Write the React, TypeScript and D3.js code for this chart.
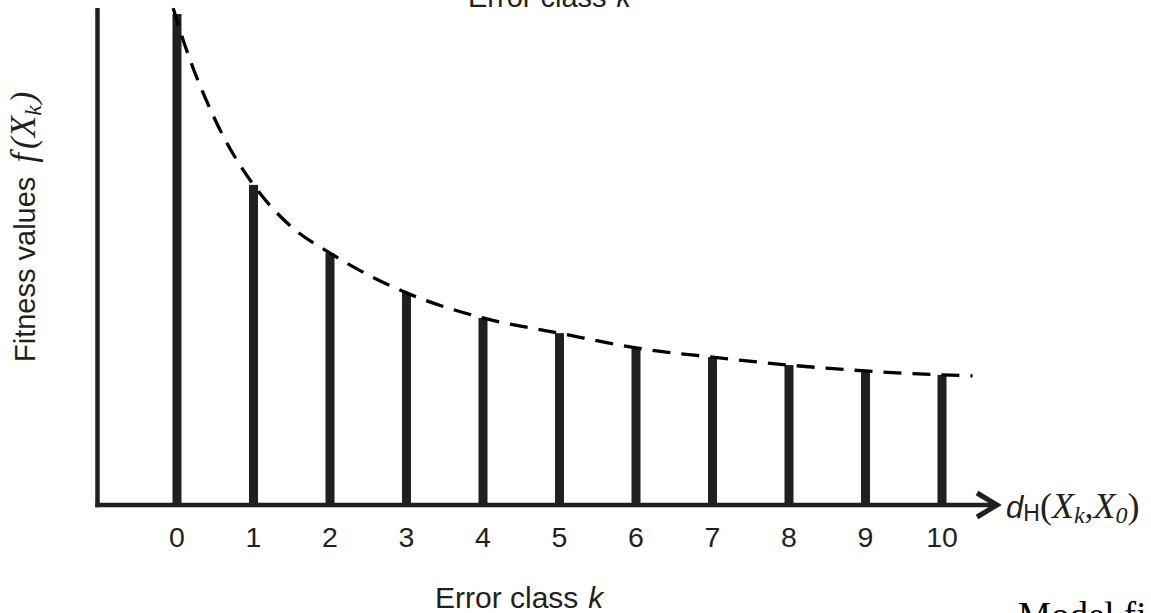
import React from "react";
import * as d3 from "d3";

// Error classes k on the horizontal axis
const errorClasses = [0, 1, 2, 3, 4, 5, 6, 7, 8, 9, 10];
// Relative fitness value f(X_k) for each error class
const fitnessValues = [1.0, 0.652, 0.513, 0.432, 0.381, 0.35, 0.32, 0.301, 0.285, 0.273, 0.265];
// Dashed trend curve through the bar tops
const trendK = [-0.05, 0, 0.5, 1, 1.5, 2, 3, 4, 5, 6, 7, 8, 9, 10, 10.4];
const trendV = [1.012, 0.986, 0.784, 0.652, 0.566, 0.513, 0.432, 0.381, 0.35, 0.32, 0.301, 0.285, 0.273, 0.265, 0.263];
const tickLabels = ["0", "1", "2", "3", "4", "5", "6", "7", "8", "9", "10"];

const W = 1151;
const H = 613;
const INK = "#231f20";
const SANS = "'Liberation Sans', Arial, sans-serif";
const SERIF = "'Liberation Serif', 'Times New Roman', serif";

export default function App() {
  const x = d3.scaleLinear().domain([0, 10]).range([177, 942]);
  const y = d3.scaleLinear().domain([0, 1]).range([505, 14]);

  const trendPts = trendK.map((k, i) => ({ k, v: trendV[i] }));
  const trend = d3
    .line<{ k: number; v: number }>()
    .x((d) => x(d.k))
    .y((d) => y(d.v))
    .curve(d3.curveMonotoneX)(trendPts);

  const axisY = y(0);
  const barW = 9;

  return (
    <svg
      width={W}
      height={H}
      viewBox={`0 0 ${W} ${H}`}
      style={{ position: "fixed", left: 0, top: 0, background: "#fff" }}
    >
      <rect width={W} height={H} fill="#fff" />

      {/* Top caption, partly above the frame */}
      <text x={468} y={7} fontFamily={SANS} fontSize={29} fill={INK}>
        Error class
        <tspan dx={10} fontStyle="italic">k</tspan>
      </text>

      {/* Bars */}
      {errorClasses.map((k, i) => (
        <rect
          key={k}
          x={x(k) - barW / 2}
          y={y(fitnessValues[i])}
          width={barW}
          height={axisY - y(fitnessValues[i])}
          fill={INK}
        />
      ))}

      {/* Dashed trend */}
      <path
        d={trend || ""}
        fill="none"
        stroke="#000"
        strokeWidth={3.3}
        strokeDasharray="18 11"
      />

      {/* Axes */}
      <line x1={97.5} y1={8} x2={97.5} y2={axisY + 2.2} stroke={INK} strokeWidth={4.5} />
      <line x1={95.3} y1={axisY} x2={996} y2={axisY} stroke={INK} strokeWidth={4.5} />
      <polyline
        points={`977,${axisY - 12} 997,${axisY} 977,${axisY + 12}`}
        fill="none"
        stroke={INK}
        strokeWidth={5}
        strokeLinecap="butt"
        strokeLinejoin="miter"
      />

      {/* Tick labels */}
      {errorClasses.map((k, i) => (
        <text
          key={k}
          x={x(k)}
          y={547}
          textAnchor="middle"
          fontFamily={SANS}
          fontSize={28.5}
          fill={INK}
        >
          {tickLabels[i]}
        </text>
      ))}

      {/* Horizontal axis name */}
      <text x={1006} y={518} fill={INK}>
        <tspan fontFamily={SANS} fontSize={31} fontStyle="italic">d</tspan>
        <tspan fontFamily={SANS} fontSize={23} dy={3}>H</tspan>
        <tspan fontFamily={SERIF} fontSize={36} dy={-3}>(</tspan>
        <tspan fontFamily={SERIF} fontSize={36} fontStyle="italic">X</tspan>
        <tspan fontFamily={SERIF} fontSize={24} fontStyle="italic" dy={5}>k</tspan>
        <tspan fontFamily={SERIF} fontSize={36} fontStyle="italic" dy={-5}>,X</tspan>
        <tspan fontFamily={SERIF} fontSize={24} fontStyle="italic" dy={5}>0</tspan>
        <tspan fontFamily={SERIF} fontSize={36} dy={-5}>)</tspan>
      </text>

      {/* Bottom caption */}
      <text x={435} y={608} fontFamily={SANS} fontSize={30} fill={INK}>
        Error class
        <tspan dx={10} fontStyle="italic">k</tspan>
      </text>

      {/* Vertical axis name */}
      <text transform="translate(35,362) rotate(-90)" fill={INK}>
        <tspan fontFamily={SANS} fontSize={29}>Fitness values</tspan>
        <tspan fontFamily={SERIF} fontSize={35} fontStyle="italic" dx={14}>f</tspan>
        <tspan fontFamily={SERIF} fontSize={35} fontStyle="italic" dx={4}>(</tspan>
        <tspan fontFamily={SERIF} fontSize={35} fontStyle="italic">X</tspan>
        <tspan fontFamily={SERIF} fontSize={24} fontStyle="italic" dy={6}>k</tspan>
        <tspan fontFamily={SERIF} fontSize={35} fontStyle="italic" dy={-6} dx={2}>)</tspan>
      </text>

      {/* Caption cut at the lower edge */}
      <text x={1018} y={628} fontFamily={SERIF} fontSize={37} fill="#000">
        Model fi
      </text>
    </svg>
  );
}
